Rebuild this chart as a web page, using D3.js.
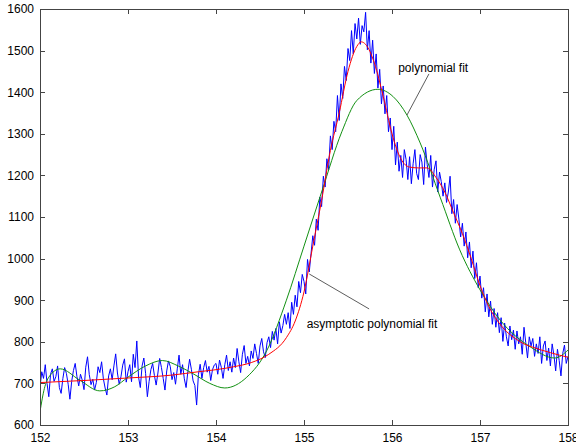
<!DOCTYPE html>
<html>
<head>
<meta charset="utf-8">
<script src="https://cdn.jsdelivr.net/npm/d3@7"></script>
<style>
  html, body { margin: 0; padding: 0; background: #fff; }
  svg { display: block; }
  text { font-family: "Liberation Sans", Arial, sans-serif; font-size: 12px; fill: #000; }
</style>
</head>
<body>
<svg id="chart" width="576" height="446"></svg>
<script>
// ---- data ----
const xTicks = [152, 153, 154, 155, 156, 157, 158];
const yTicks = [600, 700, 800, 900, 1000, 1100, 1200, 1300, 1400, 1500, 1600];

// measured signal, sampled every 0.02 from 152.00 to 158.00
const signalStart = 152;
const signalStep = 0.02;
const signal = [
 // 152.00 - 152.98
 690,728,712,745,700,668,722,735,705,716, 742,690,676,712,738,724,698,662,705,731,
 748,716,694,722,708,685,739,764,721,697, 710,684,702,740,726,752,711,689,672,718,
 735,709,742,771,725,698,716,744,759,703,
 // 153.00 - 153.98
 728,745,704,770,738,802,715,690,742,761, 724,668,705,733,748,719,696,725,760,738,
 712,684,730,754,741,709,726,698,735,768, 722,745,711,690,728,758,734,706,695,648,
 721,746,712,738,755,727,741,707,733,744,
 // 154.00 - 154.98
 748,722,756,739,712,745,768,731,752,727, 761,738,784,752,726,770,791,748,765,742,
 778,760,795,772,748,790,808,776,762,798, 812,786,825,804,832,795,848,821,839,866,
 842,870,832,895,866,912,884,945,918,962,
 // 155.00 - 155.98
 945,915,998,968,1012,1055,1032,1095,1068,1148, 1125,1198,1172,1240,1214,1295,1262,1330,1305,1392,
 1332,1420,1385,1462,1428,1505,1476,1548,1492,1565, 1528,1578,1515,1560,1545,1592,1502,1548,1470,1525,
 1445,1492,1410,1455,1372,1415,1348,1392,1305,1338,
 // 156.00 - 156.98
 1262,1318,1225,1280,1210,1248,1195,1262,1238,1190, 1245,1180,1228,1262,1205,1190,1250,1232,1178,1268,
 1226,1195,1248,1172,1215,1235,1160,1208,1185,1150, 1182,1135,1160,1198,1108,1142,1085,1130,1095,1052,
 1085,1030,1064,1002,1040,978,1018,952,990,930,
 // 157.00 - 158.00
 958,905,930,872,915,860,898,842,880,835, 870,822,858,801,845,812,790,838,805,828,
 782,826,795,812,770,835,798,761,812,790, 808,765,795,772,812,748,790,802,755,785,
 742,795,768,730,782,755,718,772,792,748,
 765
];

// asymptotic polynomial fit
const asymX = [152.0,152.5,153.0,153.5,153.8,154.0,154.2,154.4,154.6,154.8,154.9,155.0,155.1,155.2,155.3,155.4,155.5,155.6,155.65,155.7,155.8,155.9,156.0,156.1,156.2,156.3,156.4,156.5,156.6,156.7,156.8,156.9,157.0,157.1,157.2,157.3,157.4,157.5,157.6,157.7,157.8,157.9,158.0];
const asymY = [702,707,713,720,728,733,740,750,770,810,850,920,1030,1140,1260,1350,1450,1510,1521,1515,1470,1390,1300,1240,1220,1218,1218,1195,1160,1110,1060,1000,935,885,850,825,808,795,787,780,774,768,763];

// polynomial fit
const polyX = [152.0,152.05,152.1,152.23,152.45,152.68,152.85,153.0,153.2,153.39,153.57,153.75,153.93,154.1,154.35,154.58,154.8,155.0,155.2,155.43,155.6,155.84,156.01,156.17,156.32,156.55,156.77,157.0,157.23,157.57,157.85,158.0];
const polyY = [632,688,715,735,708,682,692,715,742,755,742,722,700,689,715,780,900,1030,1160,1305,1380,1407,1390,1345,1278,1146,1021,925,852,788,761,780];

const labels = [
  { text: "polynomial fit", x: 156.07, y: 1449, lx1: 156.42, ly1: 1444, lx2: 156.17, ly2: 1345 },
  { text: "asymptotic polynomial fit", x: 155.03, y: 833, lx1: 155.06, ly1: 963, lx2: 155.74, ly2: 879 }
];

// ---- drawing ----
const svg = d3.select("#chart");
const W = 576, H = 446;
const m = { left: 40, right: 8, top: 9, bottom: 21 };
const x = d3.scaleLinear().domain([152, 158]).range([m.left, W - m.right]);
const y = d3.scaleLinear().domain([600, 1600]).range([H - m.bottom, m.top]);

svg.append("rect").attr("width", W).attr("height", H).attr("fill", "#fff");

svg.append("clipPath").attr("id", "clip")
  .append("rect").attr("x", x(152)).attr("y", y(1600))
  .attr("width", x(158) - x(152)).attr("height", y(600) - y(1600));

const plot = svg.append("g").attr("clip-path", "url(#clip)");

const sigLine = d3.line()
  .x((d, i) => x(signalStart + i * signalStep))
  .y(d => y(d));
plot.append("path").datum(signal)
  .attr("d", sigLine).attr("fill", "none")
  .attr("stroke", "#0000ff").attr("stroke-width", 1);

const smooth = d3.line().x(d => x(d[0])).y(d => y(d[1])).curve(d3.curveMonotoneX);
plot.append("path").datum(polyX.map((v, i) => [v, polyY[i]]))
  .attr("d", smooth).attr("fill", "none")
  .attr("stroke", "#129012").attr("stroke-width", 1);
plot.append("path").datum(asymX.map((v, i) => [v, asymY[i]]))
  .attr("d", smooth).attr("fill", "none")
  .attr("stroke", "#ff0000").attr("stroke-width", 1);

// annotations
labels.forEach(l => {
  svg.append("line")
    .attr("x1", x(l.lx1)).attr("y1", y(l.ly1))
    .attr("x2", x(l.lx2)).attr("y2", y(l.ly2))
    .attr("stroke", "#333").attr("stroke-width", 0.8);
  svg.append("text").attr("x", x(l.x)).attr("y", y(l.y)).text(l.text);
});

// axes (box with inward ticks)
const tickLen = 5;
const axColor = "#444";
const axG = svg.append("g").attr("shape-rendering", "crispEdges");

axG.append("rect").attr("x", x(152)).attr("y", y(1600))
  .attr("width", x(158) - x(152)).attr("height", y(600) - y(1600))
  .attr("fill", "none").attr("stroke", axColor).attr("stroke-width", 1);

const axBottom = d3.axisBottom(x).tickValues(xTicks).tickSize(-tickLen).tickPadding(8).tickFormat(d3.format("d"));
const axTop = d3.axisTop(x).tickValues(xTicks).tickSize(-tickLen).tickFormat("");
const axLeft = d3.axisLeft(y).tickValues(yTicks).tickSize(-tickLen).tickPadding(6).tickFormat(d3.format("d"));
const axRight = d3.axisRight(y).tickValues(yTicks).tickSize(-tickLen).tickFormat("");

function styleAxis(sel) {
  sel.select(".domain").remove();
  sel.selectAll("line").attr("stroke", axColor);
  sel.selectAll("text").attr("font-family", "Liberation Sans, Arial, sans-serif").attr("font-size", 12).attr("fill", "#000");
}
axG.append("g").attr("transform", `translate(0,${y(600)})`).call(axBottom).call(styleAxis);
axG.append("g").attr("transform", `translate(0,${y(1600)})`).call(axTop).call(styleAxis);
axG.append("g").attr("transform", `translate(${x(152)},0)`).call(axLeft).call(styleAxis);
axG.append("g").attr("transform", `translate(${x(158)},0)`).call(axRight).call(styleAxis);
</script>
</body>
</html>
